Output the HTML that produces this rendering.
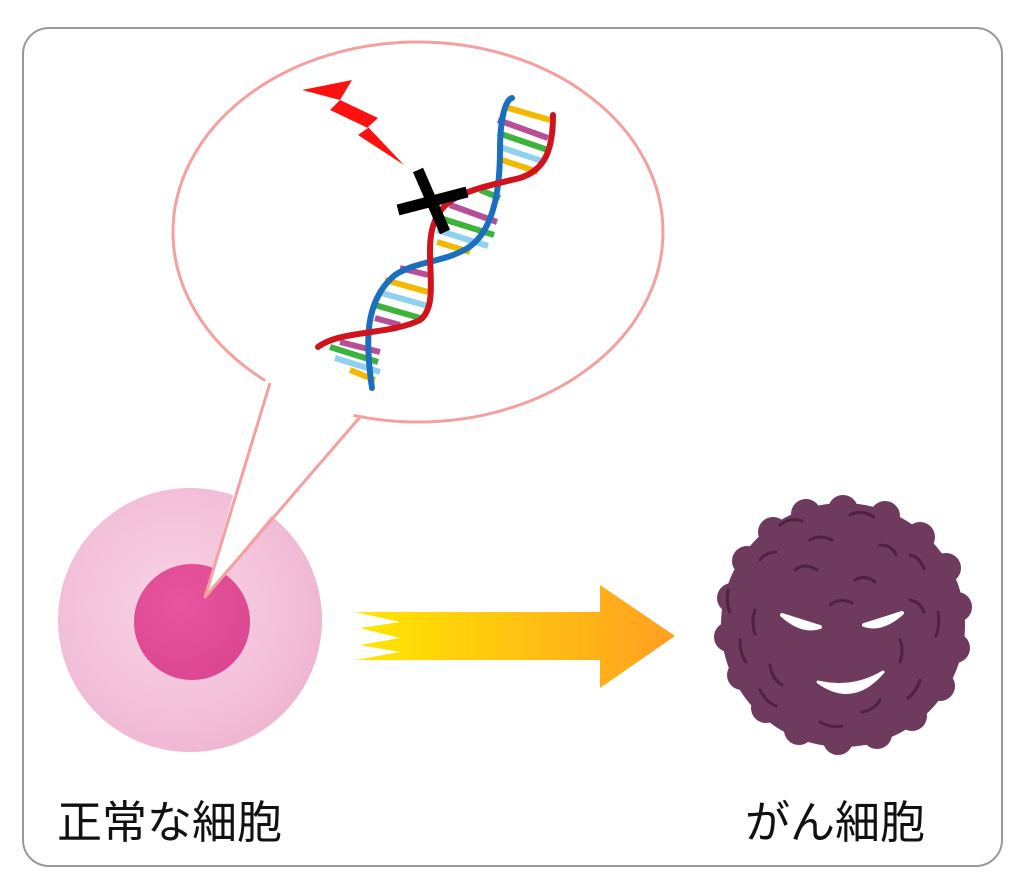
<!DOCTYPE html>
<html><head><meta charset="utf-8"><style>
html,body{margin:0;padding:0;background:#fff;}
svg{display:block}
text{font-family:"Liberation Sans","Noto Sans CJK JP",sans-serif;}
</style></head><body>
<svg width="1024" height="887" viewBox="0 0 1024 887" xmlns="http://www.w3.org/2000/svg">
<defs>
<radialGradient id="cell" cx="0.45" cy="0.45" r="0.6">
<stop offset="0" stop-color="#f8d3e4"/><stop offset="0.7" stop-color="#f3c0d9"/><stop offset="1" stop-color="#efb3cf"/></radialGradient>
<radialGradient id="nuc" cx="0.4" cy="0.35" r="0.7">
<stop offset="0" stop-color="#e8559e"/><stop offset="1" stop-color="#dc4690"/></radialGradient>
<linearGradient id="arr" x1="0" x2="1" y1="0" y2="0">
<stop offset="0" stop-color="#ffe800"/><stop offset="1" stop-color="#ff9f20"/></linearGradient>
</defs>
<rect x="23" y="28" width="979" height="838" rx="26" fill="#fff" stroke="#999" stroke-width="2"/>
<!-- normal cell -->
<circle cx="190" cy="620" r="132" fill="url(#cell)"/>
<circle cx="192" cy="622" r="58" fill="url(#nuc)"/>
<!-- bubble -->
<ellipse cx="418" cy="232" rx="245" ry="190" fill="#fff" stroke="#f4a0a0" stroke-width="3"/>
<polygon points="268,370 362,405 205,597" fill="#fff"/>
<path d="M270,383 L205,597 L360,417" fill="none" stroke="#f4a0a0" stroke-width="3" stroke-linejoin="round"/>
<!-- lightning -->
<polygon points="302,90 352,80 340,100 378,118 368,127 404,165 358,135 368,128 330,110 340,100" fill="#ff1010"/>
<!-- DNA rungs -->
<g stroke-width="6">
<line x1="505" y1="107" x2="550" y2="120" stroke="#f2b900"/>
<line x1="498" y1="120" x2="548" y2="138" stroke="#b64f98"/>
<line x1="498" y1="133" x2="548" y2="150" stroke="#3cb33c"/>
<line x1="500" y1="147" x2="545" y2="162" stroke="#8fd1ee"/>
<line x1="502" y1="160" x2="538" y2="172" stroke="#f2b900"/>
<line x1="480" y1="190" x2="500" y2="198" stroke="#3cb33c"/>
<line x1="450" y1="205" x2="497" y2="222" stroke="#b64f98"/>
<line x1="440" y1="218" x2="494" y2="235" stroke="#3cb33c"/>
<line x1="437" y1="230" x2="488" y2="246" stroke="#8fd1ee"/>
<line x1="437" y1="242" x2="470" y2="252" stroke="#f2b900"/>
<line x1="400" y1="268" x2="428" y2="275" stroke="#b64f98"/>
<line x1="385" y1="280" x2="428" y2="292" stroke="#f2b900"/>
<line x1="378" y1="292" x2="428" y2="306" stroke="#8fd1ee"/>
<line x1="375" y1="305" x2="420" y2="318" stroke="#3cb33c"/>
<line x1="375" y1="318" x2="400" y2="325" stroke="#b64f98"/>
<line x1="330" y1="347" x2="378" y2="362" stroke="#3cb33c"/>
<line x1="340" y1="342" x2="380" y2="352" stroke="#b64f98"/>
<line x1="335" y1="358" x2="380" y2="372" stroke="#8fd1ee"/>
<line x1="350" y1="370" x2="375" y2="380" stroke="#f2b900"/>
</g>
<path d="M372,388 C365,340 365,300 395,275 C415,262 440,262 460,252 C490,240 500,200 500,150 C500,120 505,100 512,98" fill="none" stroke="#1a6fbf" stroke-width="6" stroke-linecap="round"/>
<path d="M318,347 C340,330 390,335 420,320 C440,305 425,260 432,230 C440,195 470,190 520,178 C545,170 553,150 553,115" fill="none" stroke="#d0141e" stroke-width="6" stroke-linecap="round"/>
<!-- X -->
<line x1="418" y1="170" x2="445" y2="232" stroke="#000" stroke-width="11"/>
<line x1="398" y1="210" x2="467" y2="192" stroke="#000" stroke-width="11"/>
<!-- arrow -->
<polygon points="355,612 600,612 600,585 675,636 600,688 600,660 355,660 400,652 360,645 400,638 360,628 400,622" fill="url(#arr)" stroke-linejoin="round"/>
<!-- cancer cell -->
<g fill="#6e3a5e">
<circle cx="843" cy="625" r="122"/>
<g>
<circle cx="843" cy="510" r="15"/><circle cx="885" cy="516" r="15"/><circle cx="920" cy="537" r="15"/><circle cx="946" cy="568" r="15"/><circle cx="957" cy="607" r="15"/><circle cx="955" cy="648" r="15"/><circle cx="940" cy="686" r="15"/><circle cx="912" cy="716" r="15"/><circle cx="877" cy="734" r="15"/><circle cx="838" cy="740" r="15"/><circle cx="799" cy="730" r="15"/><circle cx="766" cy="708" r="15"/><circle cx="742" cy="675" r="15"/><circle cx="729" cy="637" r="15"/><circle cx="732" cy="598" r="15"/><circle cx="747" cy="561" r="15"/><circle cx="773" cy="532" r="15"/><circle cx="806" cy="514" r="15"/>
</g>
</g>
<g fill="none" stroke="#4e2240" stroke-width="3" stroke-linecap="round">
<path d="M780,525 q10,-8 22,-4"/><path d="M850,515 q12,-6 24,2"/><path d="M810,540 q10,-6 22,0"/><path d="M880,545 q12,0 16,10"/><path d="M760,560 q6,-8 16,-8"/><path d="M795,570 q10,-8 22,0"/><path d="M855,580 q10,-6 20,2"/><path d="M910,555 q10,2 14,14"/><path d="M830,605 q10,-8 22,-2"/><path d="M910,600 q10,2 14,12"/><path d="M728,590 q-2,14 2,22"/><path d="M755,610 q-4,12 0,24"/><path d="M740,640 q0,14 6,22"/><path d="M900,640 q4,10 0,22"/><path d="M938,612 q2,14 -2,24"/><path d="M770,665 q2,14 12,20"/><path d="M760,690 q6,12 16,16"/><path d="M920,680 q-4,12 -12,18"/><path d="M880,700 q-6,10 -18,12"/><path d="M820,722 q10,6 22,4"/>
</g>
<path d="M782,615 q20,18 38,12 z" fill="#fff" stroke="#fff" stroke-width="4" stroke-linejoin="round"/>
<path d="M902,613 q-20,18 -38,12 z" fill="#fff" stroke="#fff" stroke-width="4" stroke-linejoin="round"/>
<path d="M818,682 q35,25 65,-10 q-30,18 -65,10 z" fill="#fff" stroke="#fff" stroke-width="3" stroke-linejoin="round"/>
<!-- labels -->
<text x="57" y="838" font-size="45" fill="#111">正常な細胞</text>
<text x="745" y="838" font-size="45" fill="#111">がん細胞</text>
</svg>
</body></html>
